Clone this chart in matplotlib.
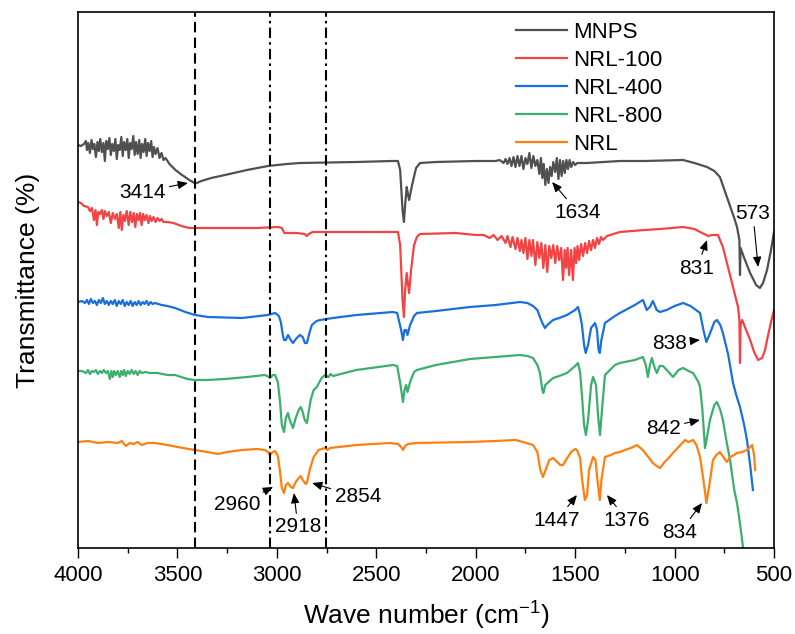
import numpy as np
import matplotlib
matplotlib.use("Agg")
import matplotlib.pyplot as plt

plt.rcParams["font.family"] = ["Liberation Sans", "DejaVu Sans"]
plt.rcParams["mathtext.fontset"] = "custom"
plt.rcParams["mathtext.rm"] = "Liberation Sans"

# FTIR spectra: wavenumber (cm-1) and depth below the plot top
# (arbitrary units, larger = lower on the chart)
mnps_wn = [4000, 3985, 3970, 3960, 3955, 3948, 3940, 3932, 3925, 3918, 3910, 3902, 3895,
           3888, 3880, 3872, 3865, 3858, 3850, 3842, 3835, 3828, 3820, 3812, 3805, 3798,
           3790, 3782, 3775, 3768, 3760, 3752, 3745, 3738, 3730, 3722, 3715, 3708, 3700,
           3692, 3685, 3678, 3670, 3662, 3655, 3648, 3640, 3632, 3625, 3618, 3610, 3600,
           3590, 3580, 3570, 3560, 3540, 3510, 3477, 3440, 3414, 3402, 3380, 3330, 3261,
           3150, 3045, 2950, 2884, 2600, 2420, 2391, 2380, 2368, 2361, 2355, 2347, 2340,
           2335, 2320, 2300, 2280, 2200, 2000, 1900, 1880, 1860, 1850, 1840, 1830, 1820,
           1810, 1800, 1790, 1780, 1770, 1760, 1750, 1740, 1730, 1720, 1710, 1700, 1690,
           1680, 1672, 1665, 1658, 1650, 1642, 1634, 1626, 1618, 1610, 1600, 1592, 1584,
           1576, 1568, 1560, 1552, 1544, 1536, 1528, 1520, 1510, 1500, 1490, 1440, 1275,
           1150, 957, 900, 837, 800, 772, 737, 700, 686, 674, 671, 668, 650, 620, 590, 571,
           555, 535, 515, 500]
mnps_d = [145, 146, 144, 141, 150, 143, 153, 140, 149, 144, 157, 142, 151,
          139, 152, 143, 161, 141, 149, 138, 155, 144, 151, 139, 159, 145,
          150, 137, 156, 142, 150, 139, 158, 143, 149, 136, 155, 142, 154,
          140, 158, 144, 152, 139, 156, 143, 151, 141, 157, 147, 154, 148,
          158, 153, 160, 158, 164, 170, 175, 180, 183, 183, 181, 178, 175,
          170, 166, 164, 163, 162, 161, 161, 170, 210, 222, 205, 187, 195,
          200, 185, 168, 163, 162, 161, 161, 160, 163, 159, 164, 158, 166,
          157, 167, 156, 166, 156, 169, 158, 164, 153, 168, 156, 166, 160,
          174, 158, 178, 164, 185, 169, 183, 167, 176, 162, 172, 158, 179,
          160, 176, 161, 173, 160, 169, 160, 167, 162, 165, 163, 163, 161,
          161, 160, 163, 167, 171, 177, 197, 218, 227, 240, 275, 248, 258, 273, 285, 288,
          283, 270, 250, 232]

nrl100_wn = [4000, 3985, 3970, 3950, 3940, 3930, 3920, 3912, 3905, 3898, 3890, 3880, 3872,
             3865, 3855, 3845, 3835, 3825, 3815, 3805, 3795, 3787, 3780, 3772, 3764, 3755,
             3745, 3737, 3728, 3720, 3712, 3704, 3696, 3688, 3680, 3672, 3664, 3655, 3646,
             3638, 3630, 3620, 3610, 3600, 3590, 3580, 3570, 3550, 3520, 3480, 3440, 3400,
             3300, 3100, 2994, 2975, 2962, 2900, 2860, 2850, 2840, 2820, 2600, 2391, 2380,
             2368, 2361, 2355, 2347, 2340, 2335, 2325, 2310, 2296, 2280, 2100, 2050, 2000,
             1960, 1930, 1910, 1890, 1870, 1850, 1840, 1825, 1815, 1800, 1790, 1778, 1770,
             1760, 1750, 1740, 1730, 1720, 1712, 1700, 1690, 1680, 1670, 1660, 1650, 1640,
             1630, 1620, 1610, 1600, 1590, 1580, 1570, 1561, 1552, 1545, 1538, 1530, 1520,
             1511, 1503, 1495, 1488, 1480, 1470, 1460, 1450, 1440, 1430, 1420, 1410, 1400,
             1390, 1380, 1370, 1360, 1340, 1275, 1150, 1073, 957, 900, 872, 840, 832, 810,
             782, 757, 730, 706, 681, 674, 671, 668, 660, 650, 620, 600, 580, 560, 545, 535,
             515, 500]
nrl100_d = [202, 203, 206, 207, 211, 208, 220, 210, 225, 212, 214, 210, 219,
            211, 216, 212, 223, 213, 219, 214, 228, 212, 230, 215, 221, 211,
            225, 212, 222, 213, 227, 214, 220, 213, 225, 214, 220, 215, 223,
            216, 221, 217, 222, 218, 221, 219, 222, 222, 223, 226, 228, 228,
            228, 228, 227, 228, 233, 233, 234, 236, 234, 232, 232, 232, 245,
            300, 317, 290, 273, 285, 293, 270, 245, 237, 234, 233, 234, 235,
            235, 238, 235, 240, 236, 243, 236, 247, 237, 249, 238, 251, 240,
            253, 238, 259, 240, 256, 240, 265, 242, 258, 243, 268, 245, 272,
            246, 258, 245, 263, 246, 260, 248, 280, 250, 268, 248, 275, 250,
            280, 248, 263, 246, 260, 244, 256, 243, 253, 241, 250, 240, 248,
            238, 244, 237, 240, 236, 232, 230, 229, 227, 229, 232, 235, 236, 235,
            235, 247, 268, 287, 307, 320, 363, 325, 320, 325, 340, 352, 360, 358, 350, 340,
            322, 310]

nrl400_wn = [4000, 3980, 3965, 3955, 3945, 3935, 3925, 3915, 3905, 3895, 3885, 3875, 3865,
             3855, 3845, 3835, 3825, 3815, 3805, 3795, 3785, 3775, 3765, 3755, 3745, 3735,
             3725, 3715, 3705, 3695, 3685, 3675, 3665, 3655, 3645, 3635, 3625, 3613, 3580,
             3550, 3512, 3460, 3412, 3346, 3175, 3045, 3009, 2990, 2980, 2970, 2964, 2955,
             2944, 2930, 2919, 2900, 2884, 2870, 2859, 2849, 2835, 2824, 2800, 2783, 2750,
             2718, 2600, 2416, 2395, 2375, 2366, 2358, 2350, 2343, 2330, 2310, 2296, 2200,
             2029, 1900, 1777, 1740, 1712, 1690, 1677, 1665, 1652, 1640, 1611, 1580, 1541,
             1500, 1486, 1475, 1466, 1455, 1447, 1435, 1420, 1400, 1390, 1382, 1376, 1368,
             1350, 1300, 1275, 1200, 1159, 1140, 1124, 1109, 1090, 1073, 1040, 1000, 957,
             920, 872, 855, 840, 825, 800, 787, 770, 757, 730, 706, 690, 671, 650, 636, 620,
             606]
nrl400_d = [302, 301, 303, 300, 304, 299, 303, 301, 305, 300, 303, 298, 304,
            301, 305, 301, 304, 300, 306, 301, 304, 300, 306, 302, 305, 301,
            306, 302, 305, 301, 305, 302, 304, 301, 305, 302, 304, 303, 305,
            306, 308, 312, 315, 317, 318, 315, 313, 316, 322, 335, 340, 340,
            335, 340, 343, 338, 335, 337, 343, 343, 332, 325, 321, 320, 319,
            318, 315, 312, 313, 330, 340, 330, 330, 335, 325, 316, 313, 311,
            307, 305, 302, 303, 306, 310, 317, 323, 328, 325, 320, 318, 315,
            310, 307, 315, 325, 345, 353, 345, 328, 323, 330, 350, 353, 340,
            323, 316, 313, 305, 300, 310, 307, 301, 310, 312, 310, 306, 303,
            306, 313, 330, 342, 335, 322, 320, 325, 333, 355, 383, 395, 407, 425, 440, 465,
            490]

nrl800_wn = [4000, 3980, 3960, 3950, 3940, 3930, 3920, 3910, 3900, 3890, 3880, 3870, 3860,
             3850, 3840, 3832, 3825, 3818, 3810, 3800, 3790, 3782, 3775, 3768, 3760, 3750,
             3740, 3730, 3720, 3710, 3700, 3690, 3680, 3660, 3640, 3600, 3550, 3512, 3450,
             3412, 3350, 3261, 3150, 3060, 3040, 3035, 3020, 3009, 2995, 2985, 2975, 2964,
             2955, 2944, 2935, 2919, 2905, 2890, 2880, 2870, 2860, 2849, 2830, 2815, 2799,
             2775, 2758, 2750, 2740, 2730, 2718, 2600, 2416, 2395, 2378, 2366, 2358, 2350,
             2343, 2330, 2310, 2296, 2200, 2029, 1900, 1777, 1740, 1712, 1690, 1677, 1665,
             1660, 1650, 1611, 1580, 1541, 1500, 1486, 1475, 1466, 1455, 1446, 1435, 1420,
             1410, 1395, 1385, 1375, 1365, 1350, 1300, 1275, 1200, 1159, 1145, 1134, 1124,
             1114, 1100, 1089, 1075, 1058, 1030, 1008, 980, 957, 930, 907, 880, 872, 860,
             847, 835, 822, 800, 787, 770, 757, 740, 721, 700, 686, 670, 656, 650]
nrl800_d = [371, 371, 373, 370, 374, 371, 372, 370, 374, 371, 373, 370, 373,
            371, 379, 371, 377, 371, 375, 371, 377, 371, 375, 370, 376, 371,
            374, 370, 374, 371, 375, 371, 373, 372, 373, 373, 375, 375, 379,
            380, 380, 379, 377, 375, 377, 378, 375, 375, 382, 400, 425, 432,
            418, 413, 420, 428, 418, 410, 407, 412, 420, 423, 400, 390, 387,
            378, 375, 376, 377, 374, 376, 370, 365, 366, 385, 402, 390, 385,
            392, 382, 372, 370, 365, 359, 357, 355, 356, 358, 365, 373, 390,
            393, 385, 378, 376, 373, 366, 363, 372, 395, 425, 435, 420, 385,
            377, 385, 415, 435, 410, 375, 365, 363, 360, 357, 365, 377, 365,
            358, 368, 373, 366, 366, 372, 377, 370, 368, 371, 373, 382, 387, 410,
            448, 435, 420, 405, 402, 410, 420, 440, 460, 490, 503, 525, 547, 560]

nrl_wn = [4000, 3950, 3900, 3850, 3800, 3780, 3760, 3740, 3720, 3700, 3680, 3650, 3613,
          3550, 3500, 3412, 3350, 3296, 3250, 3175, 3100, 3060, 3045, 3035, 3020, 3009,
          2995, 2985, 2975, 2964, 2955, 2944, 2930, 2919, 2905, 2890, 2880, 2870, 2855,
          2849, 2835, 2815, 2790, 2758, 2745, 2733, 2600, 2431, 2390, 2375, 2366, 2355,
          2340, 2300, 2029, 1900, 1800, 1762, 1712, 1690, 1675, 1662, 1645, 1630, 1611,
          1590, 1575, 1561, 1540, 1520, 1500, 1491, 1475, 1465, 1451, 1440, 1430, 1410,
          1398, 1388, 1376, 1368, 1350, 1320, 1300, 1275, 1250, 1220, 1189, 1160, 1140,
          1109, 1090, 1073, 1050, 1030, 1008, 980, 947, 930, 907, 890, 872, 855, 840, 825,
          807, 790, 772, 755, 737, 720, 700, 686, 660, 636, 620, 610, 600, 595]
nrl_d = [442, 441, 443, 442, 443, 441, 446, 443, 444, 442, 445, 443, 443,
         445, 447, 450, 452, 454, 452, 450, 449, 450, 452, 455, 452, 451,
         456, 470, 488, 493, 485, 483, 487, 488, 482, 478, 476, 480, 484,
         483, 470, 457, 450, 448, 450, 448, 445, 443, 444, 447, 450, 446,
         444, 443, 442, 441, 440, 442, 445, 452, 470, 477, 468, 460, 458,
         462, 465, 465, 458, 452, 449, 450, 458, 480, 500, 495, 470, 457,
         460, 480, 500, 480, 457, 455, 453, 452, 450, 448, 445, 450, 455,
         463, 466, 468, 462, 458, 453, 447, 440, 442, 440, 445, 457, 480, 503, 485,
         460, 455, 452, 457, 462, 457, 455, 453, 452, 450, 447, 445, 455, 470]

labels = ["MNPS", "NRL-100", "NRL-400", "NRL-800", "NRL"]
colors = ["#505050", "#f24444", "#1a6fdf", "#3cae6e", "#ff8010"]
series = [(mnps_wn, mnps_d), (nrl100_wn, nrl100_d), (nrl400_wn, nrl400_d),
          (nrl800_wn, nrl800_d), (nrl_wn, nrl_d)]

# reference lines
dash_line = 3414
dashdot_lines = [3035, 2753]

# peak annotations: label, arrow tip (wn, depth), text centre (wn, depth)
peaks = [
    ("3414", (3447, 183), (3678, 192)),
    ("1634", (1616, 182), (1486, 212)),
    ("573", (580, 267), (606, 213)),
    ("831", (837, 240), (887, 268)),
    ("838", (872, 340), (1023, 343)),
    ("842", (872, 420), (1058, 428)),
    ("1447", (1491, 495), (1591, 520)),
    ("1376", (1340, 495), (1239, 520)),
    ("834", (862, 503), (973, 532)),
    ("2960", (3019, 487), (3200, 505)),
    ("2918", (2914, 493), (2894, 527)),
    ("2854", (2823, 483), (2592, 497)),
]

TOP = 548  # converts depth below top to transmittance offset

fig = plt.figure(figsize=(7.95, 6.34), dpi=100)
ax = fig.add_axes([78 / 795, 86 / 634, 696 / 795, 536 / 634])

for (wn, d), lab, c in zip(series, labels, colors):
    ax.plot(wn, TOP - np.array(d), color=c, lw=1.6, label=lab)

ax.axvline(dash_line, color="black", lw=1.5, ls=(0, (5, 2.5)))
for x in dashdot_lines:
    ax.axvline(x, color="black", lw=1.5, ls=(0, (5, 2, 1.2, 2)))

for lab, tip, txt in peaks:
    ax.annotate(lab, xy=(tip[0], TOP - tip[1]), xytext=(txt[0], TOP - txt[1]),
                ha="center", va="center", fontsize=15,
                arrowprops=dict(arrowstyle="-|>,head_length=0.6,head_width=0.25",
                                color="black", lw=0.8, mutation_scale=10,
                                shrinkA=1, shrinkB=0))

ax.set_xlim(4000, 500)
ax.set_ylim(0, 536)
ax.set_xticks([4000, 3500, 3000, 2500, 2000, 1500, 1000, 500])
ax.set_xticks(np.arange(750, 4000, 500), minor=True)
ax.set_yticks([])
ax.tick_params(axis="x", which="major", direction="out", length=7, width=1, labelsize=16, pad=5)
ax.tick_params(axis="x", which="minor", direction="out", length=3.5, width=1)
for s in ax.spines.values():
    s.set_linewidth(1.2)

ax.set_xlabel("Wave number (cm$^{-1}$)", fontsize=19, labelpad=9)
ax.set_ylabel("Transmittance (%)", fontsize=19, labelpad=27)

ax.legend(loc="upper left", bbox_to_anchor=(0.629, 0.982), frameon=False, fontsize=16,
          handlelength=2.3, handletextpad=0.3, labelspacing=0.32, borderpad=0,
          borderaxespad=0)

fig.savefig("out.png", dpi=100)
